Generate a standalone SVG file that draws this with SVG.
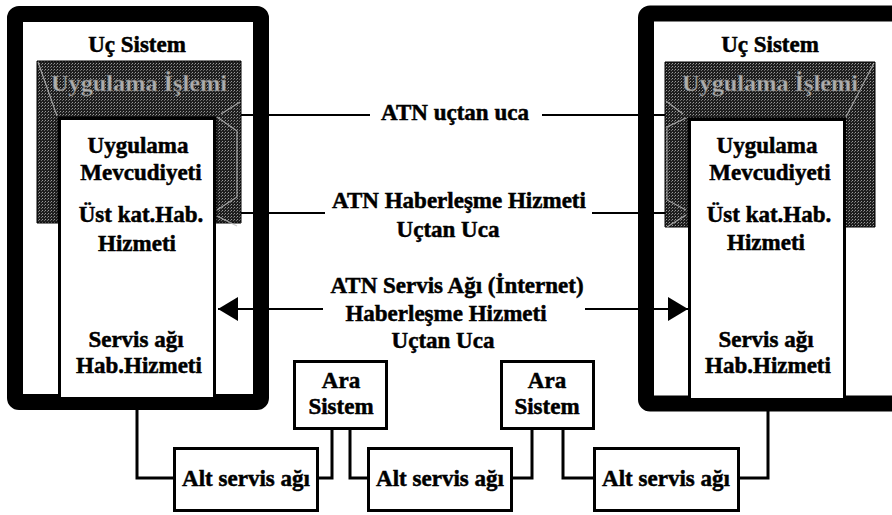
<svg xmlns="http://www.w3.org/2000/svg" width="892" height="515" viewBox="0 0 892 515">
<defs>
<pattern id="tex" width="3" height="3" patternUnits="userSpaceOnUse">
<rect width="3" height="3" fill="#1e1e1e"/>
<rect x="0" y="0" width="1" height="1" fill="#9a9a9a"/>
<rect x="2" y="1" width="1" height="1" fill="#6a6a6a"/>
</pattern>
<marker id="ah" viewBox="0 0 20 24" refX="20" refY="12" markerWidth="20" markerHeight="24" markerUnits="userSpaceOnUse" orient="auto">
<path d="M0,0 L20,12 L0,24 Z" fill="#000"/>
</marker>
</defs>
<style>
text{font-family:"Liberation Serif","Times New Roman",serif;font-weight:bold;font-size:23px;fill:#000;stroke:#000;stroke-width:0.5;text-anchor:middle}
.band{fill:url(#tex);stroke:#000;stroke-width:1}
.bandtxt{fill:#adadad;stroke:#555;stroke-width:0.4}
.outer{fill:#fff;stroke:#000;stroke-width:16}
.col{fill:#fff;stroke:#000;stroke-width:3}
.bev{fill:none;stroke:#bdbdbd;stroke-width:1.2;opacity:0.8}
.box{fill:#fff;stroke:#000;stroke-width:3}
.ln{fill:none;stroke:#000;stroke-width:2}
.cn{fill:none;stroke:#000;stroke-width:3}
</style>
<rect width="892" height="515" fill="#fff"/>

<g id="end-system-left">
<rect class="outer" x="15" y="14" width="246" height="388" rx="4"/>
<text x="137" y="52">Uç Sistem</text>
<path class="band" d="M37,61 H241 V223 H216 V117 H58 V223 H37 Z"/>
<text class="bandtxt" x="139" y="91" textLength="176" lengthAdjust="spacingAndGlyphs">Uygulama İşlemi</text>
<path class="bev" d="M217,117 L237,131 V197 L217,210 M217,216 L237,226 M221,114 L240,102 M38,62 L57,116"/>
<rect class="col" x="59.5" y="118.5" width="155" height="280"/>
<text x="138" y="153">Uygulama</text>
<text x="141" y="180">Mevcudiyeti</text>
<text x="141" y="222">Üst kat.Hab.</text>
<text x="137" y="251">Hizmeti</text>
<text x="136" y="347">Servis ağı</text>
<text x="139" y="373">Hab.Hizmeti</text>
</g>

<g id="end-system-right">
<rect class="outer" x="646" y="13.5" width="254" height="390" rx="4"/>
<text x="770" y="52">Uç Sistem</text>
<path class="band" d="M665,62 H875 V227 H845 V118 H688 V227 H665 Z"/>
<text class="bandtxt" x="770" y="91" textLength="176" lengthAdjust="spacingAndGlyphs">Uygulama İşlemi</text>
<path class="bev" d="M686,118 L667,127 V200 L686,210 M686,215 L667,227 M683,114 L666,101 M874,63 L846,117"/>
<rect class="col" x="689.5" y="119.5" width="155" height="280"/>
<text x="767" y="153">Uygulama</text>
<text x="770" y="180">Mevcudiyeti</text>
<text x="769" y="222">Üst kat.Hab.</text>
<text x="766" y="250">Hizmeti</text>
<text x="766" y="347">Servis ağı</text>
<text x="768" y="373">Hab.Hizmeti</text>
</g>

<g id="ara-sistem-1">
<rect class="box" x="294.5" y="361.5" width="92" height="67"/>
<text x="341" y="388">Ara</text>
<text x="341" y="414">Sistem</text>
</g>
<g id="ara-sistem-2">
<rect class="box" x="501.5" y="361.5" width="92" height="67"/>
<text x="547" y="388">Ara</text>
<text x="547" y="414">Sistem</text>
</g>

<g id="alt-servis-1">
<rect class="box" x="174.5" y="448.5" width="143" height="62"/>
<text x="246" y="486">Alt servis ağı</text>
</g>
<g id="alt-servis-2">
<rect class="box" x="368.5" y="448.5" width="143" height="62"/>
<text x="440" y="486">Alt servis ağı</text>
</g>
<g id="alt-servis-3">
<rect class="box" x="594.5" y="448.5" width="144" height="62"/>
<text x="666" y="486">Alt servis ağı</text>
</g>

<g id="labels">
<text x="455" y="120">ATN uçtan uca</text>
<text x="459" y="208">ATN Haberleşme Hizmeti</text>
<text x="448" y="237">Uçtan Uca</text>
<text x="457" y="293">ATN Servis Ağı (İnternet)</text>
<text x="446" y="321">Haberleşme Hizmeti</text>
<text x="443" y="348">Uçtan Uca</text>
</g>

<g id="connectors">
<path class="ln" d="M241,115 H370 M542,115 H665"/>
<path class="ln" d="M241,213 H325 M592,213 H665"/>
<path class="ln" d="M323,309 H218" marker-end="url(#ah)"/>
<path class="ln" d="M585,309 H688" marker-end="url(#ah)"/>
<path class="cn" d="M137,410 V478 H174"/>
<path class="cn" d="M318,478 H332 V430"/>
<path class="cn" d="M350,430 V478 H368"/>
<path class="cn" d="M512,478 H532 V430"/>
<path class="cn" d="M563,430 V478 H594"/>
<path class="cn" d="M739,478 H768 V411"/>
</g>
</svg>
